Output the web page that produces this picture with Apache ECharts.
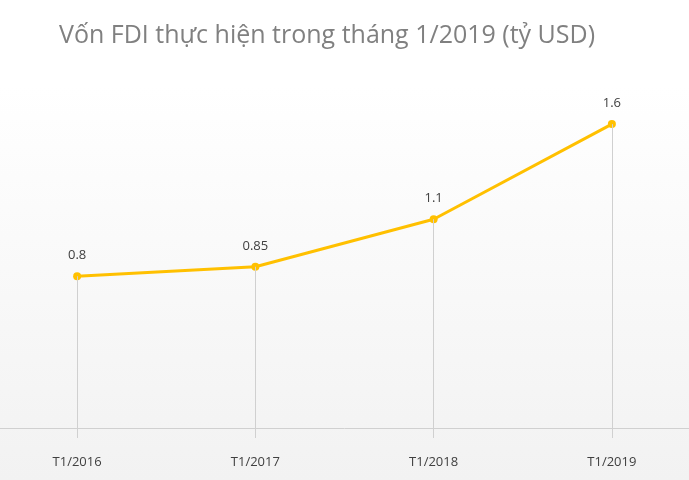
<!DOCTYPE html>
<html>
<head>
<meta charset="utf-8">
<script src="https://cdn.jsdelivr.net/npm/echarts@6/dist/echarts.min.js"></script>
<style>
  html, body { margin: 0; padding: 0; }
  #chart { width: 689px; height: 480px;
    background: linear-gradient(to bottom, #ffffff 0%, #ffffff 18%, #f2f2f2 100%); }
</style>
</head>
<body>
<div id="chart"></div>
<script>
var categories = ["T1/2016", "T1/2017", "T1/2018", "T1/2019"];
var values = [0.8, 0.85, 1.1, 1.6];
var yMin = -0.05;

var myChart = echarts.init(document.getElementById("chart"));

// vertical drop lines from each point down to the axis
var dropLines = values.map(function (v, i) {
  return [{ coord: [i, yMin] }, { coord: [i, v] }];
});

var option = {
  title: {
    text: "Vốn FDI thực hiện trong tháng 1/2019 (tỷ USD)",
    left: 54,
    top: 18,
    textStyle: { color: "#808080", fontSize: 25, fontWeight: "normal", fontFamily: "Open Sans" }
  },
  grid: { left: -12, right: -12, top: 48, bottom: 42, containLabel: false, outerBoundsMode: "none" },
  xAxis: {
    type: "category",
    data: categories,
    boundaryGap: true,
    axisLine: { lineStyle: { color: "#d0d0d0" } },
    axisTick: { show: false },
    axisLabel: { color: "#404040", fontSize: 13, margin: 18, fontFamily: "Open Sans" }
  },
  yAxis: {
    type: "value",
    min: yMin,
    max: 2,
    show: false,
    splitLine: { show: false }
  },
  series: [
    {
      type: "line",
      data: values,
      symbol: "circle",
      symbolSize: 8,
      lineStyle: { color: "#ffc000", width: 3 },
      itemStyle: { color: "#ffc000" },
      label: {
        show: true,
        position: "top",
        distance: 10,
        color: "#404040",
        fontSize: 13,
        fontFamily: "Open Sans"
      },
      markLine: {
        silent: true,
        symbol: "none",
        label: { show: false },
        lineStyle: { color: "#d0d0d0", type: "solid", width: 1 },
        data: dropLines
      },
      z: 3
    }
  ]
};
myChart.setOption(option);
window.addEventListener("resize", function () {
  myChart.resize();
});
</script>
</body>
</html>
